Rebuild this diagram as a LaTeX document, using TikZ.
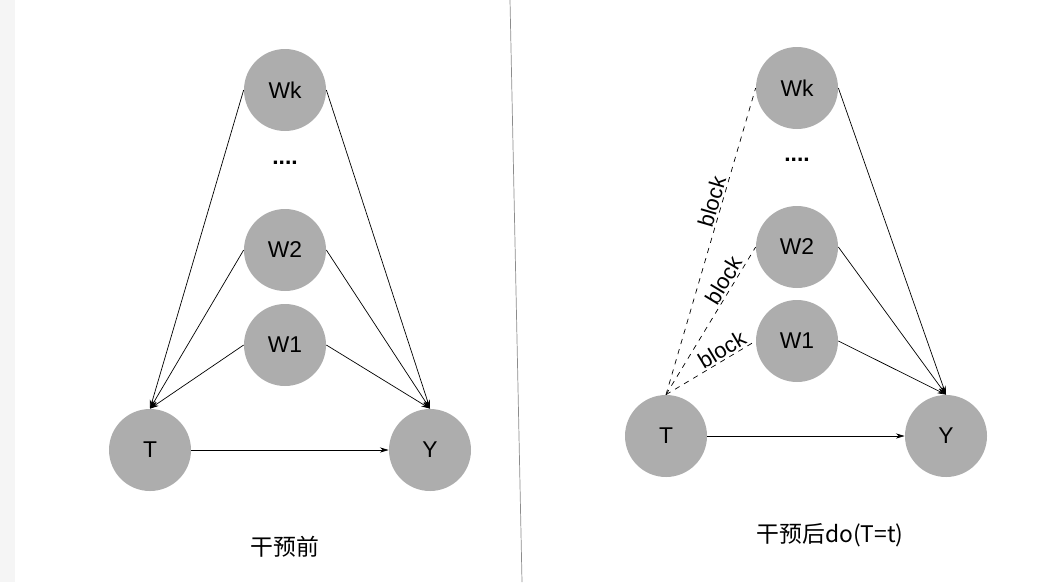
\documentclass[tikz,border=0pt]{standalone}
\usepackage{fontspec}
\setmainfont{Liberation Sans}
\newfontfamily\cjk{Noto Sans CJK SC}
\usetikzlibrary{arrows.meta}
\tikzset{
  var/.style={circle, fill=black!32, minimum size=82\pxu, inner sep=0pt, font=\fontsize{13}{15}\selectfont},
  edge/.style={-{Stealth[length=5pt,width=3pt]}, thin},
  cut/.style={dashed, thin},
  lbl/.style={sloped, above, inner sep=1pt, font=\fontsize{12.5}{14}\selectfont},
}
\newlength{\pxu}\setlength{\pxu}{0.02cm}
\begin{document}
\begin{tikzpicture}[x=0.02cm, y=-0.02cm]
  \useasboundingbox (0,0) rectangle (1050,582);
  \fill[black!4] (0,0) rectangle (15,582);
  \draw[black!45] (510,0) -- (522,582);

  % before intervention
  \node[var] (Wk) at (285,90) {Wk};
  \node[font=\bfseries\fontsize{13}{15}\selectfont] (dots) at (285,163) {....};
  \node[var] (W2) at (285,250) {W2};
  \node[var] (W1) at (285,345) {W1};
  \node[var] (T) at (150,450) {T};
  \node[var] (Y) at (430,450) {Y};
  \node[font=\cjk\fontsize{13}{15}\selectfont] (cap) at (285,547) {干预前};

  \foreach \w in {Wk,W2,W1} {
    \draw[edge] (\w.west) -- (T.north);
    \draw[edge] (\w.east) -- (Y.north);
  }
  \draw[edge] (T.east) -- (Y.west);

  % after intervention
  \node[var] (Wk2) at (797,88) {Wk};
  \node[font=\bfseries\fontsize{13}{15}\selectfont] (dots2) at (797,160) {....};
  \node[var] (W22) at (797,247) {W2};
  \node[var] (W12) at (797,341) {W1};
  \node[var] (T2) at (666,436) {T};
  \node[var] (Y2) at (946,436) {Y};
  \node[font=\cjk\fontsize{13}{15}\selectfont] (cap2) at (830,535) {干预后do(T=t)};

  \foreach \w/\p in {Wk2/0.62,W22/0.74,W12/0.68} {
    \draw[cut] (T2.north) -- node[lbl, pos=\p] {block} (\w.west);
    \draw[edge] (\w.east) -- (Y2.north);
  }
  \draw[edge] (T2.east) -- (Y2.west);
\end{tikzpicture}
\end{document}
